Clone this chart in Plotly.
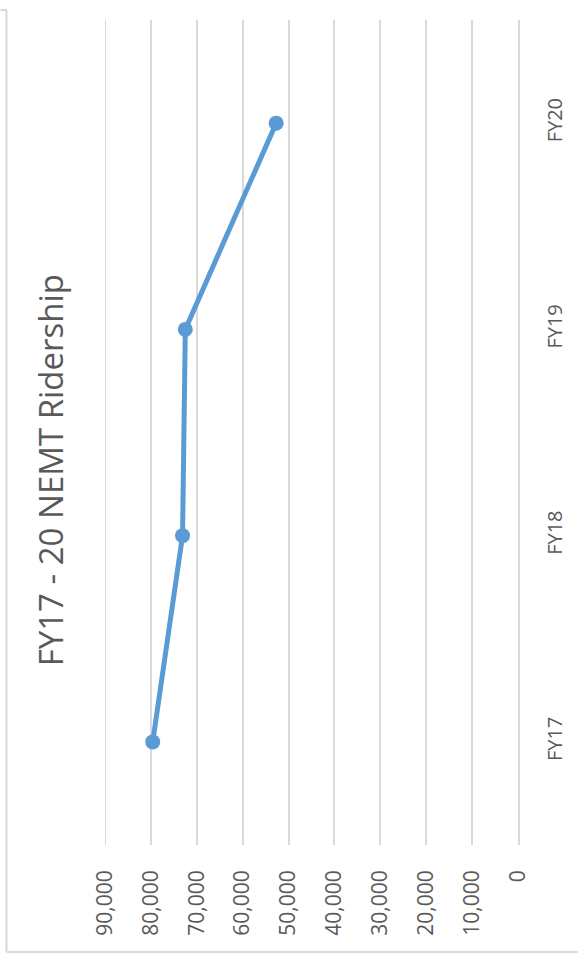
import plotly.graph_objects as go

categories = ["FY17", "FY18", "FY19", "FY20"]
ridership = [79600, 73100, 72500, 52700]
tick_values = [0, 10000, 20000, 30000, 40000, 50000, 60000, 70000, 80000, 90000]
title_text = "FY17 - 20 NEMT Ridership"

W, H = 580, 963
L, R, T, B = 105, 520, 20, 845

def px_x(p):
    return (p - L) / (R - L)

def px_y(p):
    return (B - p) / (B - T)

grey = "#d9d9d9"
txt = "#595959"
font_family = "Open Sans, Noto Sans, sans-serif"

fig = go.Figure()
fig.add_trace(go.Scatter(
    x=ridership, y=categories, mode="lines+markers",
    line=dict(color="#5B9BD5", width=5),
    marker=dict(color="#5B9BD5", size=15),
    showlegend=False,
))

fig.update_layout(
    width=W, height=H,
    margin=dict(l=L, r=W - R, t=T, b=H - B),
    paper_bgcolor="white", plot_bgcolor="white",
    xaxis=dict(
        range=[max(tick_values), 0], tickvals=tick_values, tickformat=",",
        tickangle=-90, showgrid=True, gridcolor=grey, gridwidth=2,
        zeroline=False, showline=False, ticks="",
        tickfont=dict(family=font_family, size=21, color=txt),
        ticklabelstandoff=20,
    ),
    yaxis=dict(
        type="category", categoryorder="array", categoryarray=categories,
        range=[-0.5, 3.5], side="right", tickangle=-90,
        showgrid=False, zeroline=False, showline=True,
        linecolor=grey, linewidth=2, ticks="",
        tickfont=dict(family=font_family, size=20, color=txt),
        ticklabelstandoff=18,
    ),
    annotations=[dict(
        text=title_text, xref="paper", yref="paper",
        x=px_x(51), y=px_y(470), showarrow=False, textangle=-90,
        xanchor="center", yanchor="middle",
        font=dict(family=font_family, size=33, color=txt),
    )],
    shapes=[
        dict(type="line", xref="x", yref="paper", layer="below",
             x0=max(tick_values), x1=max(tick_values), y0=0, y1=1,
             line=dict(color=grey, width=2)),
        dict(type="line", xref="paper", yref="paper",
             x0=px_x(6), x1=px_x(6), y0=px_y(10), y1=px_y(952),
             line=dict(color=grey, width=2)),
        dict(type="line", xref="paper", yref="paper",
             x0=px_x(6), x1=px_x(580), y0=px_y(952), y1=px_y(952),
             line=dict(color=grey, width=2)),
        dict(type="line", xref="paper", yref="paper",
             x0=px_x(0), x1=px_x(6), y0=px_y(10), y1=px_y(10),
             line=dict(color=grey, width=2)),
    ],
)

fig.write_html("out.html")
